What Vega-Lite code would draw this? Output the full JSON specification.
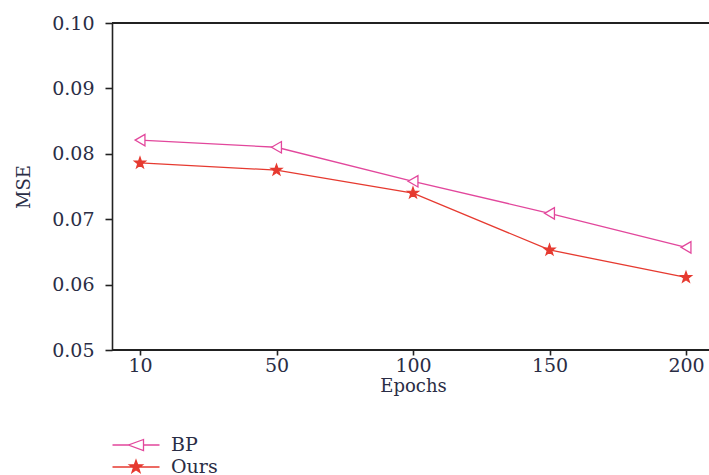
{
  "$schema": "https://vega.github.io/schema/vega-lite/v6.json",
  "width": 597,
  "height": 327,
  "autosize": {"type": "none"},
  "padding": {"left": 112, "top": 23, "right": 0, "bottom": 125},
  "background": "white",
  "config": {
    "view": {"stroke": null},
    "font": "DejaVu Serif",
    "axis": {
      "domainColor": "#222222",
      "domainWidth": 1.6,
      "tickColor": "#222222",
      "tickWidth": 1.6,
      "tickSize": 7,
      "grid": false,
      "labelFont": "DejaVu Serif",
      "labelFontSize": 19,
      "labelColor": "#2a2d45",
      "titleFont": "DejaVu Serif",
      "titleFontSize": 18,
      "titleFontWeight": "normal",
      "titleColor": "#2a2d45"
    }
  },
  "resolve": {"scale": {"shape": "independent", "fill": "independent", "stroke": "independent"}},
  "data": {
    "values": [
      {"epochs": "10", "method": "BP", "mse": 0.0821},
      {"epochs": "50", "method": "BP", "mse": 0.0810},
      {"epochs": "100", "method": "BP", "mse": 0.0758},
      {"epochs": "150", "method": "BP", "mse": 0.0709},
      {"epochs": "200", "method": "BP", "mse": 0.0657},
      {"epochs": "10", "method": "Ours", "mse": 0.0786},
      {"epochs": "50", "method": "Ours", "mse": 0.0775},
      {"epochs": "100", "method": "Ours", "mse": 0.0740},
      {"epochs": "150", "method": "Ours", "mse": 0.0653},
      {"epochs": "200", "method": "Ours", "mse": 0.0611}
    ]
  },
  "layer": [
    {
      "mark": {"type": "rule", "color": "#222222", "strokeWidth": 1.6},
      "encoding": {"y": {"datum": 0.1, "type": "quantitative", "scale": {"domain": [0.05, 0.1], "nice": false}}}
    },
    {
      "mark": {"type": "rule", "color": "#222222", "strokeWidth": 1.6},
      "encoding": {"y": {"datum": 0.05, "type": "quantitative"}}
    },
    {
      "mark": {"type": "line", "strokeWidth": 1.3},
      "encoding": {
        "x": {"field": "epochs", "type": "ordinal", "sort": ["10", "50", "100", "150", "200"], "scale": {"type": "point", "range": [28, 574], "padding": 0}, "axis": {"title": "Epochs", "labelAngle": 0, "tickSize": 5, "labelPadding": 1, "titlePadding": 2, "domain": false}},
        "y": {"field": "mse", "type": "quantitative", "scale": {"domain": [0.05, 0.1], "nice": false}, "axis": {"title": "MSE", "values": [0.05, 0.06, 0.07, 0.08, 0.09, 0.1], "format": ".2f", "labelPadding": 11, "titlePadding": 18}},
        "stroke": {"field": "method", "type": "nominal", "scale": {"domain": ["BP", "Ours"], "range": ["#e2479c", "#e63a30"]}, "legend": null}
      }
    },
    {
      "mark": {"type": "point", "filled": true, "strokeWidth": 1.3, "opacity": 1},
      "encoding": {
        "x": {"field": "epochs", "type": "ordinal", "sort": ["10", "50", "100", "150", "200"]},
        "y": {"field": "mse", "type": "quantitative"},
        "shape": {
          "field": "method", "type": "nominal",
          "scale": {"domain": ["BP", "Ours"], "range": ["triangle-left", "M0,-1L0.235,-0.324L0.951,-0.309L0.380,0.124L0.588,0.809L0,0.4L-0.588,0.809L-0.380,0.124L-0.951,-0.309L-0.235,-0.324Z"]},
          "legend": null
        },
        "fill": {"field": "method", "type": "nominal", "scale": {"domain": ["BP", "Ours"], "range": ["white", "#e63a30"]}, "legend": null},
        "stroke": {"field": "method", "type": "nominal", "scale": {"domain": ["BP", "Ours"], "range": ["#e2479c", "#e63a30"]}, "legend": null},
        "size": {"value": 130}
      }
    },
    {
      "transform": [{"filter": "false"}],
      "mark": {"type": "point", "filled": true, "strokeWidth": 1.3, "opacity": 1},
      "encoding": {
        "x": {"field": "epochs", "type": "ordinal", "sort": ["10", "50", "100", "150", "200"]},
        "y": {"field": "mse", "type": "quantitative"},
        "shape": {
          "field": "method", "type": "nominal",
          "scale": {"domain": ["BP", "Ours"], "range": ["M-2.35,0L-0.75,0M0.75,-0.55L-0.75,0L0.75,0.55ZM0.75,0L2.35,0", "M-2.35,0L2.35,0M0,-0.68L0.16,-0.22L0.647,-0.21L0.258,0.084L0.4,0.55L0,0.272L-0.4,0.55L-0.258,0.084L-0.647,-0.21L-0.16,-0.22Z"]},
          "legend": {
            "orient": "none",
            "legendX": 13,
            "legendY": 411,
            "padding": 0,
            "title": null,
            "symbolSize": 400,
            "symbolStrokeWidth": 1.3,
            "labelFont": "DejaVu Serif",
            "labelFontSize": 19,
            "labelColor": "#2a2d45",
            "labelOffset": 24,
            "rowPadding": 1
          }
        },
        "fill": {"field": "method", "type": "nominal", "scale": {"domain": ["BP", "Ours"], "range": ["white", "#e63a30"]}},
        "stroke": {"field": "method", "type": "nominal", "scale": {"domain": ["BP", "Ours"], "range": ["#e2479c", "#e63a30"]}}
      }
    }
  ]
}
